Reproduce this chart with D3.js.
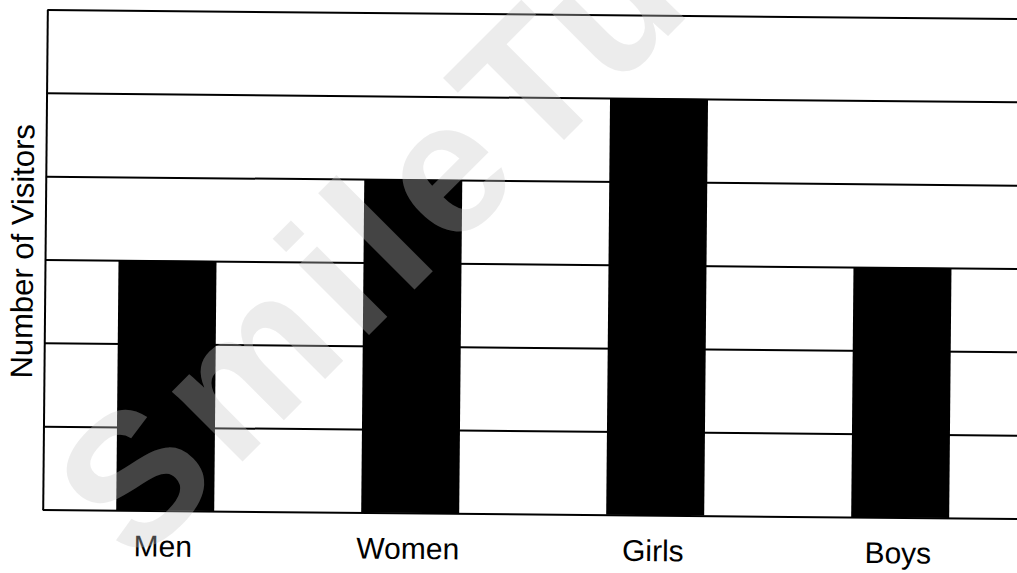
<!DOCTYPE html>
<html>
<head>
<meta charset="utf-8">
<script src="https://cdn.jsdelivr.net/npm/d3@7"></script>
<style>
  html, body { margin: 0; padding: 0; background: #fff; }
  svg { display: block; }
</style>
</head>
<body>
<script>
const categories = ["Men", "Women", "Girls", "Boys"];
const visitors = [3, 4, 5, 3];
const yTicks = [0, 1, 2, 3, 4, 5, 6];
const yTitle = "Number of Visitors";
const watermark = "SmileTutor";

const W = 1017, H = 573;
const tilt = "rotate(0.53, 530, 264)";
const svg = d3.select("body").append("svg").attr("width", W).attr("height", H);
svg.append("rect").attr("width", W).attr("height", H).attr("fill", "#fff");

const plotLeft = 45, plotRight = 1025, plotTop = 14, plotBottom = 514;
const y = d3.scaleLinear().domain([0, 6]).range([plotBottom, plotTop]);
const x = d3.scaleBand().domain(categories).range([plotLeft, plotRight])
  .paddingInner(0.6).paddingOuter(0.3);

const g = svg.append("g").attr("transform", tilt);

// grid + axis
const axis = g.append("g").attr("transform", `translate(${plotLeft},0)`)
  .call(d3.axisLeft(y).tickValues(yTicks).tickSize(-(W - plotLeft + 20)).tickSizeOuter(0).tickFormat(""));
axis.selectAll(".tick line").attr("stroke", "#000").attr("stroke-width", 2);
axis.select(".domain").attr("stroke", "#000").attr("stroke-width", 2);

// bars
g.selectAll("rect.bar").data(categories).join("rect")
  .attr("class", "bar")
  .attr("x", d => x(d))
  .attr("width", x.bandwidth())
  .attr("y", (d, i) => y(visitors[i]))
  .attr("height", (d, i) => y(0) - y(visitors[i]))
  .attr("fill", "#000");

// category labels
g.selectAll("text.cat").data(categories).join("text")
  .attr("class", "cat")
  .attr("x", d => x(d) + x.bandwidth() / 2 - 2)
  .attr("y", 560)
  .attr("text-anchor", "middle")
  .attr("font-family", "Liberation Sans, Arial, sans-serif")
  .attr("font-size", 30)
  .attr("fill", "#000")
  .text(d => d);

// y title
g.append("text")
  .attr("transform", "translate(33, 256) rotate(-90)")
  .attr("text-anchor", "middle")
  .attr("font-family", "Liberation Sans, Arial, sans-serif")
  .attr("font-size", 31)
  .attr("fill", "#000")
  .text(yTitle);

// watermark: semi-transparent light overlay (black -> dark grey, white -> very light grey)
svg.append("g")
  .attr("transform", "translate(136, 568) rotate(-45)")
  .append("text")
  .attr("x", 0).attr("y", 0)
  .attr("font-family", "Liberation Sans, Arial, sans-serif")
  .attr("font-weight", 700)
  .attr("font-size", 188)
  .attr("letter-spacing", 12)
  .attr("fill", "rgba(200,200,200,0.34)")
  .text(watermark);
</script>
</body>
</html>
